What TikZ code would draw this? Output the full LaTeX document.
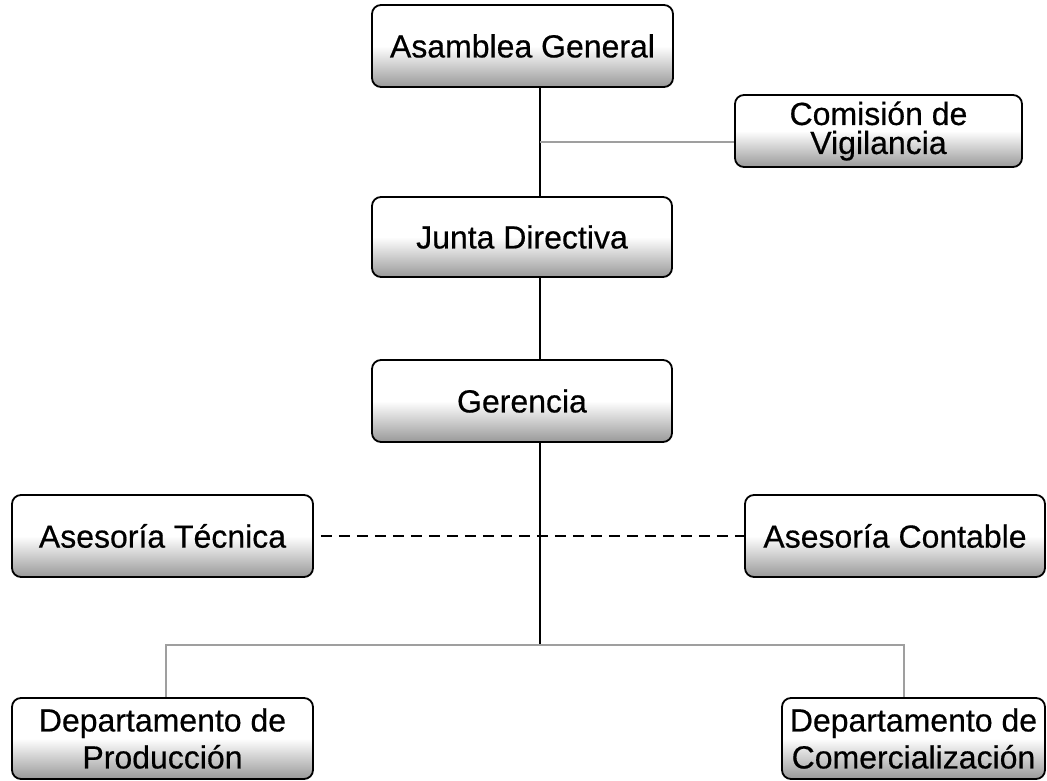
\documentclass[tikz,border=0pt]{standalone}
\usepackage{fontspec}
\setmainfont{Liberation Sans}[UprightFeatures={FakeBold=0.5}]
\usetikzlibrary{calc}

\pgfdeclareverticalshading{cajagris}{100bp}{color(0bp)=(gray!80); color(25bp)=(gray!80); color(50bp)=(white); color(100bp)=(white)}

\begin{document}
\begin{tikzpicture}[x=1pt,y=-1pt,
    caja/.style={draw=black,line width=1.8pt,rounded corners=9pt,shading=cajagris,
        inner sep=0pt,align=center,font=\fontsize{32}{29}\selectfont},
    linea/.style={line width=1.6pt,black},
    lineagris/.style={line width=2pt,gray!75}]
                \useasboundingbox (0,0) rectangle (1047,781);

                \node[caja,minimum width=301pt,minimum height=82pt] (asamblea) at (522.5,46) {Asamblea General};
                \node[caja,minimum width=287pt,minimum height=72pt] (comision) at (878.5,131) {Comisión de\\Vigilancia};
                \node[caja,minimum width=300pt,minimum height=80pt] (junta) at (522,237) {Junta Directiva};
                \node[caja,minimum width=300pt,minimum height=82pt] (gerencia) at (522,401) {Gerencia};
                \node[caja,minimum width=301pt,minimum height=82pt] (tecnica) at (162.5,536) {Asesoría Técnica};
                \node[caja,minimum width=300pt,minimum height=82pt] (contable) at (895,536) {Asesoría Contable};
                \node[caja,minimum width=301pt,minimum height=81pt,font=\fontsize{32}{37}\selectfont] (produccion) at (162.5,738.5) {Departamento de\\Producción};
                \node[caja,minimum width=263pt,minimum height=81pt,font=\fontsize{32}{37}\selectfont] (comercializacion) at (913.5,738.5) {Departamento de\\Comercialización};

                \coordinate (eje) at (540,0);
                \coordinate (vigila) at (540,142);
                \coordinate (rama) at (540,645);

                % linea principal
                \draw[linea] (asamblea.south -| eje) -- (junta.north -| eje);
                \draw[linea] (junta.south -| eje) -- (gerencia.north -| eje);
                \draw[linea] (gerencia.south -| eje) -- (rama);

                \draw[lineagris] (vigila) -- (comision.west |- vigila);
                \draw[linea,dash pattern=on 11pt off 7pt,shorten <=7pt] (tecnica.east) -- (contable.west);

                % departamentos
                \draw[lineagris] ([xshift=3pt]produccion.north) |- (rama) -| ([xshift=-10pt]comercializacion.north);
            \end{tikzpicture}
\end{document}
